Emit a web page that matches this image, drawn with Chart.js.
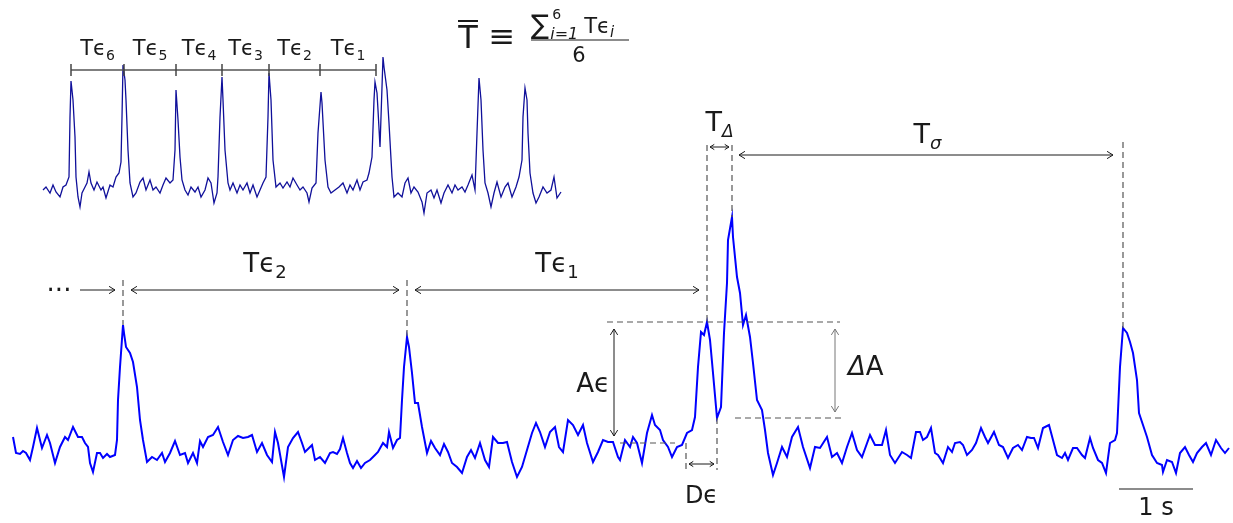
<!DOCTYPE html>
<html>
<head>
<meta charset="utf-8">
<script src="https://cdn.jsdelivr.net/npm/chart.js@4/dist/chart.umd.min.js"></script>
<style>html,body{margin:0;background:#fff}canvas{display:block}</style>
</head>
<body>
<canvas id="c" width="1233" height="523"></canvas>
<script>
// ---- data ----
const FPS = 74; // frames per second (length of the 1 s bar)

// main trace: frame index / amplitude
const mainT = [
  -1,2,6,9,12,16,19,23,28,33,
  36,41,46,51,54,59,64,68,71,74,
  76,79,83,86,89,93,96,101,103,104,
  106,109,110,112,116,119,123,126,129,133,
  138,143,148,151,156,161,166,171,174,179,
  183,186,189,194,199,204,209,214,219,224,
  229,234,238,243,248,253,258,261,264,270,
  274,279,284,288,291,298,301,306,311,316,
  319,323,326,329,333,336,339,343,347,351,
  356,361,364,369,373,375,379,383,386,388,
  390,393,395,398,401,404,408,413,417,421,
  426,430,434,438,443,448,453,457,461,466,
  471,475,479,484,489,493,498,503,508,513,
  518,522,526,531,536,541,545,549,554,559,
  564,569,573,579,584,589,594,599,604,606,
  611,616,619,623,628,633,638,641,646,649,
  654,658,663,668,673,678,681,684,687,690,
  693,696,699,703,707,710,713,714,718,719,
  723,726,729,732,736,739,743,748,751,754,
  759,763,768,773,778,784,789,796,801,806,
  813,818,823,828,833,838,843,848,856,861,
  868,872,876,881,888,893,897,902,906,909,
  913,917,921,924,929,934,938,941,946,949,
  953,958,962,967,971,974,980,985,989,994,
  999,1004,1008,1013,1017,1020,1024,1029,1035,1039,
  1043,1048,1051,1054,1059,1063,1068,1071,1076,1079,
  1084,1088,1092,1096,1101,1103,1106,1109,1113,1116,
  1119,1123,1125,1129,1133,1138,1143,1148,1149,1153,
  1158,1162,1166,1171,1175,1179,1183,1188,1192,1197,
  1202,1207,1211,1215
];
const mainA = [
  18,2,1,4,2,-5,8,27,7,20,
  12,-8,8,18,15,28,18,18,12,8,
  -8,-17,2,2,-3,1,-2,0,15,55,
  88,130,122,108,102,93,68,35,15,-7,
  -2,-5,2,-7,2,14,0,2,-8,2,
  -8,14,8,18,20,28,13,0,15,19,
  17,18,20,3,12,0,-7,23,12,-22,
  8,17,23,12,3,10,-5,-2,-8,2,
  3,1,6,17,2,-8,-13,-6,-13,-8,
  -5,0,3,12,8,23,7,15,17,55,
  88,118,108,82,52,52,28,2,14,7,
  0,11,3,-8,-12,-18,-2,5,-3,12,
  -5,-12,18,12,12,13,-7,-22,-12,5,
  22,32,23,8,23,28,8,3,35,30,
  20,30,12,-7,3,15,13,13,-2,-5,
  15,8,18,12,-8,22,40,30,25,15,
  8,-2,8,10,22,25,38,88,123,120,
  133,115,82,37,48,122,172,215,238,218,
  178,162,130,140,118,92,55,45,25,2,
  -20,-8,8,-2,18,28,8,-13,8,7,
  18,-2,2,-8,8,22,5,-2,20,10,
  10,25,0,-8,3,0,-3,23,23,15,
  18,27,2,0,-8,8,3,12,13,10,
  0,5,12,27,18,12,23,10,8,-3,
  7,10,5,18,17,17,7,27,30,15,
  0,-3,2,-5,7,7,0,-3,17,7,
  -5,-8,-18,12,15,22,88,127,122,113,
  102,75,42,30,18,0,-8,-10,-17,-5,
  -7,-18,2,8,0,-7,2,8,12,0,
  15,7,2,7
];

// overview trace (inset): frame index / amplitude
const insetT = [
  1,4,8,11,14,18,21,24,27,28,
  29,31,33,34,36,38,40,43,45,47,
  49,52,55,59,61,64,68,71,74,77,
  79,80,81,83,84,86,88,91,94,98,
  101,104,108,111,114,118,121,124,128,131,
  133,134,136,138,140,143,146,149,153,156,
  159,163,166,169,172,175,176,178,180,181,
  183,186,188,191,195,198,201,205,208,211,
  215,218,221,224,226,227,229,231,234,238,
  241,245,248,251,255,258,261,265,267,270,
  274,276,279,280,283,286,289,293,297,301,
  305,308,311,315,318,321,325,327,330,332,
  333,335,336,338,339,341,342,345,347,350,
  352,356,360,363,366,369,372,376,380,382,
  385,389,392,395,399,402,406,410,413,416,
  420,423,426,430,433,435,437,439,441,443,
  446,449,452,455,459,463,466,470,474,477,
  480,481,483,485,486,488,491,494,497,501,
  505,509,512,515,519
];
const insetA = [
  5,8,2,10,3,-2,8,10,18,78,
  114,95,58,18,-2,-12,2,8,12,23,
  12,5,13,5,8,-3,10,8,18,22,
  33,78,130,115,95,45,12,-2,2,13,
  17,5,15,5,8,2,10,17,12,15,
  45,105,75,38,15,5,0,8,3,8,
  -2,5,17,12,-8,2,18,78,118,95,
  45,12,5,12,2,10,5,12,2,10,
  -2,5,12,18,78,122,95,35,8,12,
  7,13,8,17,10,5,8,2,-7,7,
  12,62,103,92,35,8,2,5,8,12,
  2,10,5,15,5,13,15,22,38,95,
  113,102,85,48,78,138,128,105,72,18,
  -2,2,-2,12,17,2,8,3,-7,-18,
  2,5,-3,5,-8,2,10,2,10,5,
  8,3,10,20,5,62,117,95,45,12,
  2,-12,2,13,-2,8,12,-2,8,18,
  35,78,107,95,62,22,2,-8,-2,8,
  2,5,18,-3,3
];

// annotations
const mainPeaks = [109, 393, 693, 718, 1109];   // events marked on the main trace
const dipFrame = 703;                            // trough between the double event
const riseFrame = 672;                           // start of the first event of the pair
const baseLevel = 12;                            // local baseline for A
const scaleStart = 1105;
const insetMarks = [29, 82, 134, 180, 227, 278, 334];
const insetLabels = ['6', '5', '4', '3', '2', '1'];

const FONT = '"DejaVu Sans", sans-serif';
const INK = '#1a1a1a';
const DASH = [6, 4];

const ampAt = t => mainA[mainT.indexOf(t)];

function rich(c, parts, x, y, align) {
  let w = 0;
  parts.forEach(p => {
    c.font = (p[3] || '') + ' ' + p[1] + 'px ' + FONT;
    p.w = c.measureText(p[0]).width; w += p.w;
  });
  let cx = align === 'center' ? x - w / 2 : align === 'right' ? x - w : x;
  c.textAlign = 'left'; c.textBaseline = 'alphabetic'; c.fillStyle = INK;
  parts.forEach(p => {
    c.font = (p[3] || '') + ' ' + p[1] + 'px ' + FONT;
    c.fillText(p[0], cx, y + (p[2] || 0)); cx += p.w;
  });
  return cx;
}
function textW(c, t, size, style) {
  c.font = (style || '') + ' ' + size + 'px ' + FONT;
  return c.measureText(t).width;
}
function seg(c, x1, y1, x2, y2, dash, color, w) {
  c.save(); c.strokeStyle = color || INK; c.lineWidth = w || 1; c.setLineDash(dash || []);
  c.beginPath(); c.moveTo(x1, y1); c.lineTo(x2, y2); c.stroke(); c.restore();
}
function head(c, x, y, a, color, len) {
  const l = len || 7;
  c.save(); c.strokeStyle = color || INK; c.lineWidth = 1; c.beginPath();
  c.moveTo(x - l * Math.cos(a - 0.55), y - l * Math.sin(a - 0.55)); c.lineTo(x, y);
  c.lineTo(x - l * Math.cos(a + 0.55), y - l * Math.sin(a + 0.55)); c.stroke(); c.restore();
}
function arrow(c, x1, y1, x2, y2, both, color, len) {
  seg(c, x1, y1, x2, y2, null, color, 1);
  const a = Math.atan2(y2 - y1, x2 - x1);
  head(c, x2, y2, a, color, len);
  if (both) head(c, x1, y1, a + Math.PI, color, len);
}

const annotations = {
  id: 'annotations',
  afterDatasetsDraw(chart) {
    const c = chart.ctx, s = chart.scales;
    const X = v => s.x.getPixelForValue(v), Y = v => s.y.getPixelForValue(v);
    const XI = v => s.xi.getPixelForValue(v), YI = v => s.yi.getPixelForValue(v);

    // --- inset: intervals between events
    const bY = YI(125);
    seg(c, XI(insetMarks[0]), bY, XI(insetMarks[insetMarks.length - 1]), bY, null, '#555', 1.5);
    insetMarks.forEach(m => seg(c, XI(m), bY - 6, XI(m), bY + 6, null, '#444', 1.5));
    insetLabels.forEach((lab, i) => {
      const mid = (XI(insetMarks[i]) + XI(insetMarks[i + 1])) / 2;
      rich(c, [['T\u03f5', 21], [lab, 14, 5]], mid, YI(140), 'center');
    });

    // --- formula: mean interval
    const fx = chart.chartArea.left;
    rich(c, [['T', 32]], fx + 468, 48, 'center');
    seg(c, fx + 458, 21, fx + 478, 21, null, INK, 2);
    rich(c, [['\u2261', 32]], fx + 502, 47, 'center');
    let nx = rich(c, [['\u2211', 27]], fx + 531, 34, 'left') + 1;
    rich(c, [['i=1', 16, 0, 'italic']], nx, 39, 'left');
    rich(c, [['6', 14]], nx + 2, 19, 'left');
    nx += textW(c, 'i=1', 16, 'italic') + 6;
    rich(c, [['T\u03f5', 21], ['i', 15, 4, 'italic']], nx, 33, 'left');
    seg(c, fx + 531, 40, fx + 629, 40, null, INK, 1.2);
    rich(c, [['6', 21]], fx + 579, 62, 'center');

    // --- main trace: inter-event intervals
    const [p1, p2, p3, p4, p5] = mainPeaks;
    const aY = Y(165);
    rich(c, [['\u00b7\u00b7\u00b7', 26]], X(45), aY + 9, 'center');
    arrow(c, X(66), aY, X(101), aY, false);
    seg(c, X(p1), Y(175), X(p1), Y(ampAt(p1)), DASH, '#555', 1.2);
    seg(c, X(p2), Y(175), X(p2), Y(ampAt(p2)), DASH, '#555', 1.2);
    arrow(c, X(p1 + 8), aY, X(p2 - 8), aY, true);
    arrow(c, X(p2 + 8), aY, X(p3 - 8), aY, true);
    rich(c, [['T\u03f5', 26], ['2', 18, 6]], (X(p1) + X(p2)) / 2, Y(183), 'center');
    rich(c, [['T\u03f5', 26], ['1', 18, 6]], (X(p2) + X(p3)) / 2, Y(183), 'center');

    // delay inside the double event and time to the next one
    seg(c, X(p3), Y(310), X(p3), Y(ampAt(p3)), DASH, '#555', 1.2);
    seg(c, X(p4), Y(310), X(p4), Y(ampAt(p4)), DASH, '#555', 1.2);
    seg(c, X(p5), Y(313), X(p5), Y(ampAt(p5)), DASH, '#555', 1.2);
    arrow(c, X(p3 + 3), Y(308), X(p4 - 3), Y(308), true, INK, 5);
    rich(c, [['T', 27], ['\u0394', 17, 6, 'italic']], (X(p3) + X(p4)) / 2, Y(324), 'center');
    arrow(c, X(p4 + 7), Y(300), X(p5 - 10), Y(300), true);
    rich(c, [['T', 27], ['\u03c3', 18, 6, 'italic']], (X(p4) + X(p5)) / 2, Y(312), 'center');

    // amplitude of the first event
    const aTop = ampAt(p3);
    seg(c, X(593), Y(aTop), X(826), Y(aTop), DASH, '#555', 1.2);
    seg(c, X(606), Y(baseLevel), X(661), Y(baseLevel), DASH, '#555', 1.2);
    arrow(c, X(600), Y(aTop - 7), X(600), Y(baseLevel + 7), true);
    rich(c, [['A\u03f5', 26]], X(596), Y(63), 'right');

    // duration of the first event
    seg(c, X(riseFrame), Y(baseLevel), X(riseFrame), Y(-15), DASH, '#555', 1.2);
    seg(c, X(dipFrame), Y(ampAt(dipFrame)), X(dipFrame), Y(-15), DASH, '#555', 1.2);
    arrow(c, X(riseFrame + 3), Y(-9), X(dipFrame - 3), Y(-9), true, INK, 5);
    rich(c, [['D\u03f5', 24]], (X(riseFrame) + X(dipFrame)) / 2, Y(-48), 'center');

    // amplitude change of the second event
    const dLow = ampAt(dipFrame);
    seg(c, X(721), Y(dLow), X(828), Y(dLow), DASH, '#555', 1.2);
    arrow(c, X(821), Y(aTop - 7), X(821), Y(dLow + 6), true, '#777');
    rich(c, [['\u0394', 26, 0, 'italic'], ['A', 26]], X(834), Y(80), 'left');

    // scale bar
    seg(c, X(scaleStart), Y(-34), X(scaleStart + FPS), Y(-34), null, INK, 1.2);
    rich(c, [['1 s', 24]], X(scaleStart + FPS / 2), Y(-60), 'center');
  }
};

new Chart(document.getElementById('c'), {
  type: 'line',
  data: {
    datasets: [
      {
        data: mainT.map((t, i) => ({ x: t, y: mainA[i] })),
        xAxisID: 'x', yAxisID: 'y',
        borderColor: '#0000ff', borderWidth: 2, pointRadius: 0, tension: 0
      },
      {
        data: insetT.map((t, i) => ({ x: t, y: insetA[i] })),
        xAxisID: 'xi', yAxisID: 'yi',
        borderColor: '#10109a', borderWidth: 1.3, pointRadius: 0, tension: 0
      }
    ]
  },
  options: {
    responsive: false,
    animation: false,
    layout: { padding: 0 },
    plugins: { legend: { display: false }, tooltip: { enabled: false } },
    scales: {
      x: { type: 'linear', display: false, min: -14, max: 1219 },
      y: { type: 'linear', display: false, min: -68, max: 455 },
      xi: { type: 'linear', display: false, min: -42, max: 1191 },
      yi: { type: 'linear', display: false, min: -328, max: 195 }
    }
  },
  plugins: [annotations]
});
</script>
</body>
</html>
